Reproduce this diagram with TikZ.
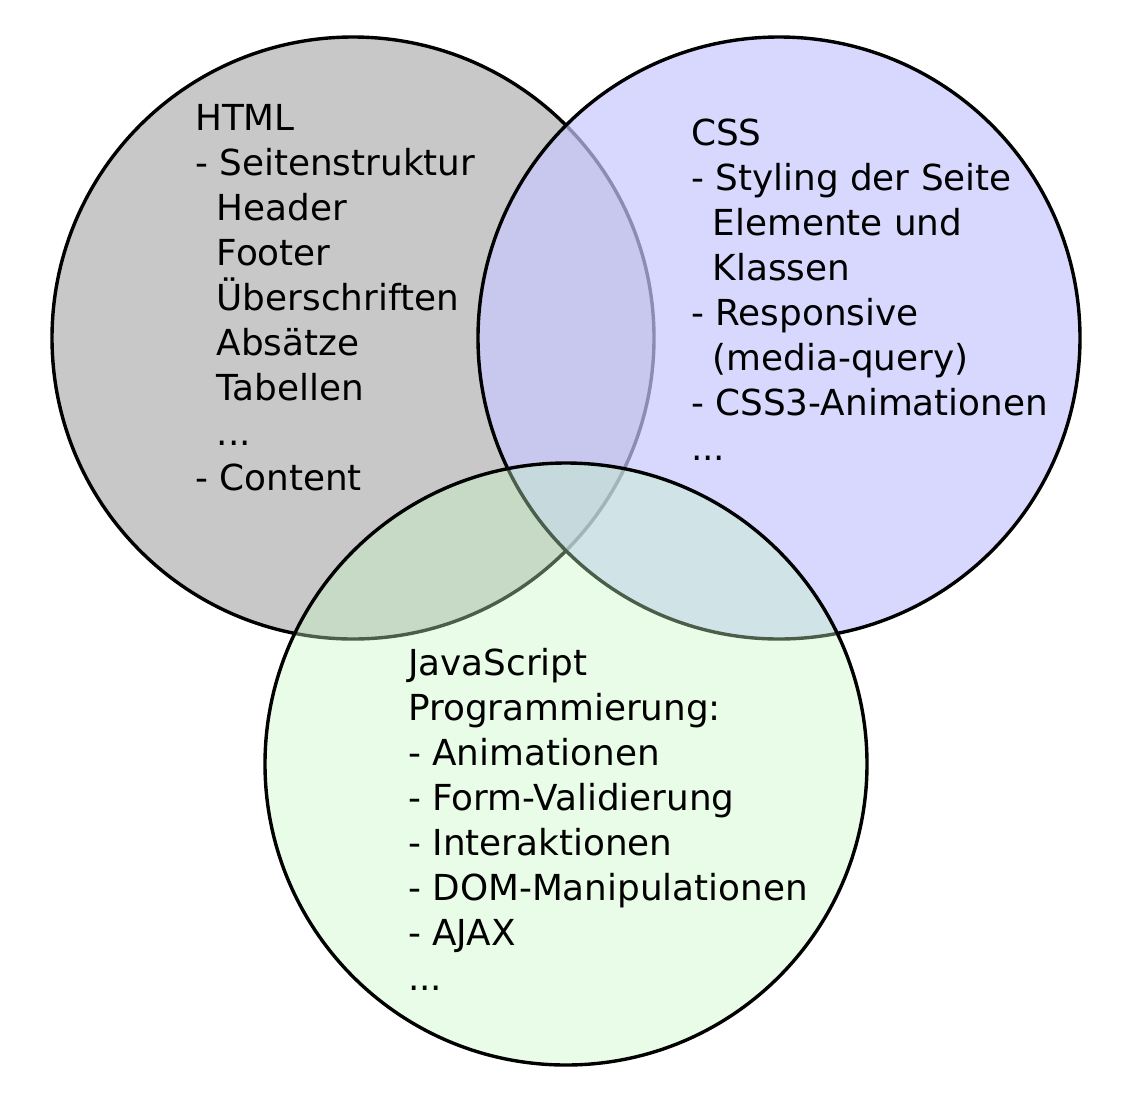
\documentclass[tikz,border=0pt]{standalone}
\usepackage{fontspec}
\setmainfont{DejaVu Sans}
\definecolor{htmlgrau}{RGB}{200,200,200}
\definecolor{cssblau}{RGB}{200,200,255}
\definecolor{jsgruen}{RGB}{195,248,195}
\newcommand{\ein}{\hspace*{0.6em}}
\begin{document}
\begin{tikzpicture}[x=1pt, y=-1pt,
    kreis/.style={draw=black, line width=3.4pt},
    liste/.style={anchor=base west, align=left, inner sep=0pt, font=\fontsize{35.8}{45}\selectfont}]
    \useasboundingbox (0,0) rectangle (1132,1104);
    \coordinate(H)at(353,338);
    \coordinate(C)at(779,338);
    \coordinate(J)at(566,764);

    % Kreise
    \path[kreis, fill=htmlgrau](H) circle[radius=301];
    \path[kreis, fill=cssblau, fill opacity=0.7](C) circle[radius=301];
    \path[kreis, fill=jsgruen, fill opacity=0.38](J) circle[radius=301];

    % Texte (Anker: Grundlinie der letzten Zeile)
    \node[liste](html)at(195,490){HTML\\- Seitenstruktur\\\ein Header\\\ein Footer\\\ein Überschriften\\\ein Absätze\\\ein Tabellen\\\ein ...\\- Content};
    \node[liste](css)at(691,460){CSS\\- Styling der Seite\\\ein Elemente und\\\ein Klassen\\- Responsive\\\ein (media-query)\\- CSS3-Animationen\\...};
    \node[liste](js)at(408,990){JavaScript\\Programmierung:\\- Animationen\\- Form-Validierung\\- Interaktionen\\- DOM-Manipulationen\\- AJAX\\...};
\end{tikzpicture}
\end{document}
